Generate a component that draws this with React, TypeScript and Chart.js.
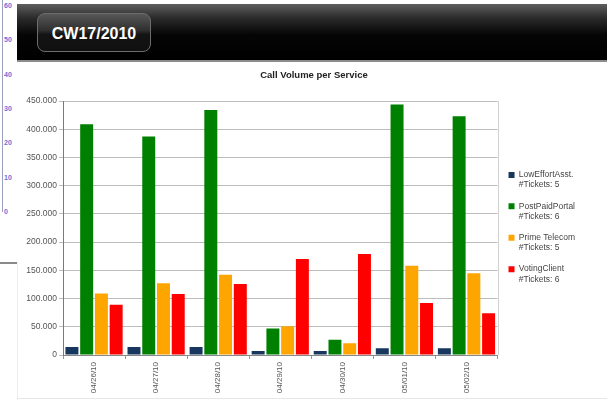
import React, { useEffect, useRef } from 'react';
import { Chart, registerables } from 'chart.js';

Chart.register(...registerables);

const categories = ['04/26/10', '04/27/10', '04/28/10', '04/29/10', '04/30/10', '05/01/10', '05/02/10'];
const lowEffortValues = [14000, 14000, 14000, 7000, 7000, 12000, 12000];
const postPaidValues = [409000, 387000, 434000, 47000, 27000, 444000, 423000];
const primeTelValues = [109000, 127000, 142000, 51000, 21000, 158000, 145000];
const votingValues = [89000, 108000, 126000, 170000, 179000, 92000, 74000];
const seriesNames = [
  ['LowEffortAsst.', '#Tickets: 5'],
  ['PostPaidPortal', '#Tickets: 6'],
  ['Prime Telecom', '#Tickets: 5'],
  ['VotingClient', '#Tickets: 6'],
];
const seriesColors = ['#17375e', '#008000', '#ffa500', '#ff0000'];
const yMax = 450000;
const yStep = 50000;
const sideTicks = ['60', '50', '40', '30', '20', '10', '0'];
const chartTitle = 'Call Volume per Service';

const FONT = '"Liberation Sans", Arial, sans-serif';

const plotBorder = {
  id: 'plotBorder',
  beforeDatasetsDraw(chart: any) {
    const { ctx, chartArea } = chart;
    ctx.save();
    ctx.strokeStyle = '#d0d0d0';
    ctx.lineWidth = 1;
    ctx.beginPath();
    ctx.moveTo(Math.round(chartArea.right) + 0.5, chartArea.top);
    ctx.lineTo(Math.round(chartArea.right) + 0.5, chartArea.bottom);
    ctx.stroke();
    ctx.restore();
  },
};

function BarChart() {
  const ref = useRef<HTMLCanvasElement>(null);
  useEffect(() => {
    if (!ref.current) return;
    const values = [lowEffortValues, postPaidValues, primeTelValues, votingValues];
    const chart = new Chart(ref.current, {
      type: 'bar',
      data: {
        labels: categories,
        datasets: values.map((v, i) => ({
          label: seriesNames[i].join(' '),
          data: v,
          backgroundColor: seriesColors[i],
          borderWidth: 0,
          categoryPercentage: 0.95,
          barPercentage: 0.88,
        })),
      },
      options: {
        responsive: false,
        animation: false,
        devicePixelRatio: 1,
        layout: { padding: { left: 0, right: 22, top: 39, bottom: 0 } },
        plugins: {
          title: { display: false },
          legend: {
            position: 'right',
            fullSize: false,
            labels: {
              boxWidth: 6,
              boxHeight: 6,
              padding: 11,
              color: '#444',
              font: { family: FONT, size: 8.5 },
              generateLabels: (chart: any) =>
                chart.data.datasets.map((ds: any, i: number) => ({
                  text: seriesNames[i],
                  fillStyle: seriesColors[i],
                  strokeStyle: seriesColors[i],
                  lineWidth: 0,
                  hidden: false,
                  datasetIndex: i,
                  fontColor: '#444',
                })),
            },
          },
          tooltip: { enabled: false },
        },
        scales: {
          x: {
            grid: { drawOnChartArea: false, tickLength: 4, color: '#999' },
            border: { display: true, color: '#888' },
            ticks: {
              minRotation: 90,
              maxRotation: 90,
              color: '#555',
              font: { family: FONT, size: 8 },
              padding: 3,
            },
            afterFit: (s: any) => {
              s.height = 45;
            },
          },
          y: {
            min: 0,
            max: yMax,
            grid: { color: '#bdbdbd', tickLength: 4 },
            border: { display: true, color: '#6f7a96' },
            ticks: {
              stepSize: yStep,
              color: '#555',
              font: { family: FONT, size: 8.5 },
              padding: 2,
              callback: (v: any) => Number(v).toLocaleString('de-DE'),
            },
            afterFit: (s: any) => {
              s.width = 46;
            },
          },
        },
      },
      plugins: [plotBorder],
    });
    return () => chart.destroy();
  }, []);
  return <canvas ref={ref} width={590} height={338} style={{ position: 'absolute', left: 17, top: 62 }} />;
}

export default function App() {
  return (
    <div style={{ position: 'fixed', left: 0, top: 0, width: 607, height: 400, background: '#fff', overflow: 'hidden', fontFamily: FONT }}>
      {/* left strip remnant */}
      <div style={{ position: 'absolute', left: 2, top: 0, width: 1, height: 212, background: '#9aa0c0' }} />
      {sideTicks.map((t, i) => (
        <div key={t} style={{ position: 'absolute', left: 4, top: 2 + i * 34.3, fontSize: 7, fontWeight: 'bold', color: '#7070d8', lineHeight: '8px' }}>{t}</div>
      ))}
      <div style={{ position: 'absolute', left: 0, top: 262, width: 17, height: 2, background: '#8a8a8a' }} />
      <div style={{ position: 'absolute', left: 17, top: 262, width: 1, height: 138, background: '#eee' }} />
      {/* header */}
      <div
        style={{
          position: 'absolute',
          left: 17,
          top: 4,
          width: 590,
          height: 56,
          background: 'linear-gradient(to bottom, #5e5e5e 0%, #2b2b2b 25%, #050505 55%, #000 100%)',
          borderBottom: '2px solid #8c8c8c',
        }}
      />
      <div
        style={{
          position: 'absolute',
          left: 37,
          top: 13,
          width: 114,
          height: 39,
          borderRadius: 8,
          border: '1px solid #6d6d6d',
          background: 'linear-gradient(to bottom, #585858 0%, #2e2e2e 45%, #141414 55%, #101010 100%)',
          color: '#fff',
          fontWeight: 'bold',
          fontSize: 16,
          lineHeight: '39px',
          textAlign: 'center',
          boxSizing: 'border-box',
          fontFamily: '"Liberation Sans", Arial, sans-serif',
        }}
      >
        CW17/2010
      </div>
      <BarChart />
      <div
        style={{
          position: 'absolute',
          left: 214,
          top: 69,
          width: 200,
          textAlign: 'center',
          fontSize: 9.5,
          lineHeight: '12px',
          fontWeight: 'bold',
          color: '#222',
        }}
      >
        {chartTitle}
      </div>
      <div style={{ position: 'absolute', left: 17, top: 398, width: 590, height: 1, background: '#e6e6e6' }} />
    </div>
  );
}
